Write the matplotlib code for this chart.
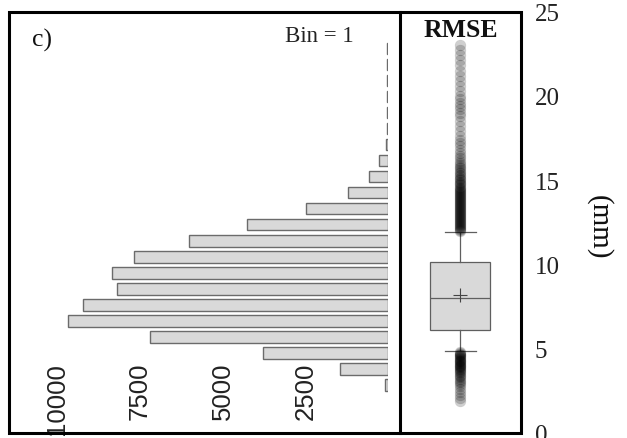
import matplotlib
matplotlib.use('Agg')
import matplotlib.pyplot as plt
from matplotlib.lines import Line2D
from matplotlib.patches import Rectangle

# ---------------- data ----------------
bin_centers = [3, 4, 5, 6, 7, 8, 9, 10, 11, 12, 13, 14, 15, 16, 17, 18, 19, 20, 21, 22, 23, 24]
bin_counts = [90, 1466, 3775, 7210, 9670, 9226, 8189, 8340, 7694, 6022, 4268, 2485,
              1215, 571, 269, 80, 50, 40, 40, 40, 40, 40]
count_ticks = [2500, 5000, 7500, 10000]
count_tick_labels = ['2500', '5000', '7500', '10000']

rmse_q1 = 6.11
rmse_median = 7.99
rmse_q3 = 10.12
rmse_mean = 8.18
rmse_whisker_low = 4.85
rmse_whisker_high = 11.90
fliers_high = [23.0, 22.7, 22.4, 22.1, 21.8, 21.5, 21.2, 20.9, 20.6, 20.3, 20.0, 19.8,
               19.6, 19.4, 19.2, 19.0, 18.8, 18.5, 18.2, 17.9, 17.6, 17.4, 17.2, 17.0,
               16.8, 16.6, 16.45, 16.3, 16.15, 16.0, 15.9, 15.8, 15.7, 15.6, 15.5, 15.4,
               15.3, 15.22, 15.14, 15.06, 14.98, 14.9, 14.83, 14.76, 14.69, 14.62, 14.55,
               14.49, 14.43, 14.37, 14.31, 14.25, 14.19, 14.13, 14.07, 14.01, 13.95,
               13.89, 13.83, 13.77, 13.71, 13.65, 13.59, 13.53, 13.47, 13.41, 13.35,
               13.29, 13.23, 13.17, 13.11, 13.05, 12.99, 12.93, 12.87, 12.81, 12.75,
               12.69, 12.63, 12.57, 12.51, 12.45, 12.39, 12.33, 12.27, 12.21, 12.15,
               12.09, 12.03, 11.97]
fliers_low = [4.80, 4.75, 4.70, 4.65, 4.60, 4.55, 4.50, 4.45, 4.40, 4.35, 4.30, 4.25,
              4.20, 4.15, 4.10, 4.05, 4.00, 3.95, 3.90, 3.85, 3.80, 3.75, 3.70, 3.62,
              3.54, 3.46, 3.38, 3.30, 3.20, 3.10, 3.00, 2.88, 2.76, 2.62, 2.46, 2.28,
              2.10, 1.92]
rmse_ticks = [0, 5, 10, 15, 20, 25]

# ---------------- layout ----------------
W, H = 627, 439
fig = plt.figure(figsize=(W / 100, H / 100), dpi=100)


def fx(px):
    return px / W


def fy(py):
    return 1 - py / H


y_top, y_bot = 12.5, 434.0
x_left, x_div, x_right = 8.5, 400.5, 520.5
x_zero = 388.2
px_per_count = 82.7 / 2500
x_clip = 387.6

serif = 'Liberation Serif'
sans = 'Liberation Sans'

# ---------------- histogram panel ----------------
ax_h = fig.add_axes([fx(x_left), fy(y_bot), fx(x_clip) - fx(x_left), fy(y_top) - fy(y_bot)])
ax_h.barh(bin_centers, bin_counts, height=0.7, left=0, color='#d9d9d9',
          edgecolor='#6b6b6b', linewidth=1.0)
ax_h.set_xlim((x_zero - x_left) / px_per_count, (x_zero - x_clip) / px_per_count)
ax_h.set_ylim(0, 26.33)
ax_h.set_xticks(count_ticks, count_tick_labels)
ax_h.set_yticks([])
ax_h.tick_params(axis='x', length=0, pad=-(y_bot - 363) * 0.72, labelrotation=90,
                 labelsize=18.5, labelcolor='#222222')
for lab in ax_h.get_xticklabels():
    lab.set_fontfamily(sans)
for s in ax_h.spines.values():
    s.set_visible(False)

# ---------------- box plot panel ----------------
ax_b = fig.add_axes([fx(x_div), fy(y_bot), fx(x_right) - fx(x_div), fy(y_top) - fy(y_bot)])
stats = [{
    'med': rmse_median, 'q1': rmse_q1, 'q3': rmse_q3,
    'whislo': rmse_whisker_low, 'whishi': rmse_whisker_high,
    'mean': rmse_mean, 'fliers': fliers_high + fliers_low,
}]
edge = '#5f5f5f'
ax_b.bxp(stats, positions=[1], widths=0.5, capwidths=0.26, showmeans=True,
         patch_artist=True,
         boxprops=dict(facecolor='#d9d9d9', edgecolor=edge, linewidth=0.9),
         medianprops=dict(color=edge, linewidth=0.9),
         whiskerprops=dict(color=edge, linewidth=0.9),
         capprops=dict(color=edge, linewidth=0.9),
         meanprops=dict(marker='+', markersize=9.5, markeredgecolor='#444444',
                        markeredgewidth=0.8),
         flierprops=dict(marker='o', markersize=8.0, markerfacecolor=(0, 0, 0, 0.19),
                         markeredgecolor=(0, 0, 0, 0.04), markeredgewidth=0.5,
                         linestyle='none'))
ax_b.set_xlim(0.5, 1.5)
ax_b.set_ylim(0, 25)
ax_b.set_xticks([])
ax_b.set_yticks(rmse_ticks)
ax_b.yaxis.tick_right()
ax_b.tick_params(axis='y', length=0, pad=10.4, labelsize=18, labelcolor='#222222')
for lab in ax_b.get_yticklabels():
    lab.set_fontfamily(serif)
for s in ax_b.spines.values():
    s.set_visible(False)

# ---------------- frame ----------------
fig.add_artist(Rectangle((fx(x_left), fy(y_bot)), fx(x_right) - fx(x_left),
                         fy(y_top) - fy(y_bot), transform=fig.transFigure, fill=False,
                         linewidth=2.2, edgecolor='black', joinstyle='miter', zorder=10))
fig.add_artist(Line2D([fx(x_div), fx(x_div)], [fy(y_bot), fy(y_top)],
                      transform=fig.transFigure, color='black', linewidth=2.2, zorder=10))

# ---------------- texts ----------------
fig.text(fx(32), fy(29), 'c)', family=serif, size=18.5, va='top', ha='left', color='#111111')
fig.text(fx(285), fy(26), 'Bin = 1', family=serif, size=16.5, va='top', ha='left',
         color='#222222')
fig.text(fx(461), fy(19), 'RMSE', family=serif, weight='bold', size=18.5, va='top',
         ha='center', color='#111111')
fig.text(fx(599), fy(227.5), '(mm)', family=serif, size=21, rotation=270, va='center',
         ha='center', color='#111111')

fig.savefig('out.png', dpi=100)
